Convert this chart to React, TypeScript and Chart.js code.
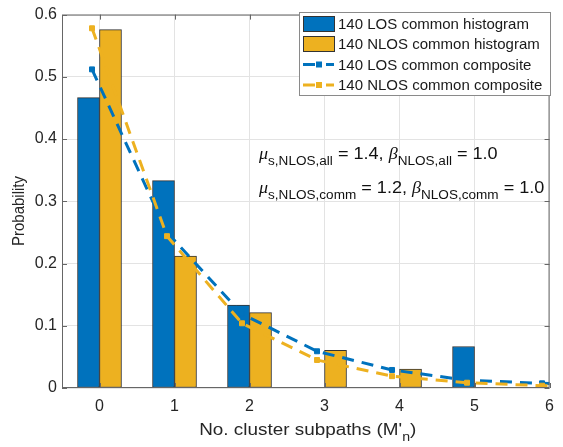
import React, { useEffect, useRef } from 'react';
import { Chart, registerables } from 'chart.js';

Chart.register(...registerables);

// ---------- data ----------
const binCenters = [0, 1, 2, 3, 4, 5];
const losHistogram = [0.4667, 0.3333, 0.1333, 0, 0, 0.0667];
const nlosHistogram = [0.5758, 0.2121, 0.1212, 0.0606, 0.0303, 0];

const compositeX = [-0.1, 0.9, 1.9, 2.9, 3.9, 4.9, 5.9, 6.9];
const losComposite = [0.512, 0.25, 0.119, 0.059, 0.029, 0.0125, 0.0075, 0.004];
const nlosComposite = [0.578, 0.244, 0.104, 0.045, 0.019, 0.0085, 0.0037, 0.0016];

const xTicks = [0, 1, 2, 3, 4, 5, 6];
const yTicks = [0, 0.1, 0.2, 0.3, 0.4, 0.5, 0.6];

const legendLabels = [
  '140 LOS common histogram',
  '140 NLOS common histogram',
  '140 LOS common composite',
  '140 NLOS common composite',
];

const BLUE = '#0072BD';
const YELLOW = '#EDB120';
const TEXT = '#262626';
const SANS = '"Liberation Sans", Arial, Helvetica, sans-serif';
const SERIF = '"Liberation Serif", "DejaVu Serif", serif';

type Part = { t: string; font: string; dy?: number };

function drawRich(ctx: CanvasRenderingContext2D, parts: Part[], x: number, y: number, sx: number) {
  ctx.save();
  ctx.translate(x, y);
  ctx.scale(sx, 1);
  let cx = 0;
  for (const p of parts) {
    ctx.font = p.font;
    ctx.fillText(p.t, cx, p.dy || 0);
    cx += ctx.measureText(p.t).width;
  }
  ctx.restore();
}

function richWidth(ctx: CanvasRenderingContext2D, parts: Part[], sx: number) {
  let w = 0;
  for (const p of parts) {
    ctx.font = p.font;
    w += ctx.measureText(p.t).width;
  }
  return w * sx;
}

const decorPlugin = {
  id: 'decor',
  afterDraw(chart: any) {
    const ctx: CanvasRenderingContext2D = chart.ctx;
    const { left, right, top, bottom } = chart.chartArea;
    const xs = chart.scales.x;
    const ys = chart.scales.y;
    ctx.save();

    // frame
    ctx.strokeStyle = '#666666';
    ctx.lineWidth = 1;
    ctx.strokeRect(left + 0.5, top + 0.5, right - left - 1, bottom - top - 1);

    // inner ticks
    ctx.beginPath();
    for (const v of xTicks) {
      const px = Math.round(xs.getPixelForValue(v)) + 0.5;
      ctx.moveTo(px, bottom);
      ctx.lineTo(px, bottom - 5);
      ctx.moveTo(px, top);
      ctx.lineTo(px, top + 5);
    }
    for (const v of yTicks) {
      const py = Math.round(ys.getPixelForValue(v)) + 0.5;
      ctx.moveTo(left, py);
      ctx.lineTo(left + 5, py);
      ctx.moveTo(right, py);
      ctx.lineTo(right - 5, py);
    }
    ctx.stroke();

    // legend
    const lx = 299.5, ly = 12.5, lw = 251, lh = 83;
    ctx.fillStyle = '#ffffff';
    ctx.fillRect(lx, ly, lw, lh);
    ctx.strokeStyle = '#8a8a8a';
    ctx.lineWidth = 1;
    ctx.strokeRect(lx, ly, lw, lh);
    const rowsY = [24, 44, 64.5, 85];
    const colors = [BLUE, YELLOW, BLUE, YELLOW];
    ctx.textBaseline = 'middle';
    ctx.textAlign = 'left';
    for (let i = 0; i < 4; i++) {
      const y = rowsY[i];
      if (i < 2) {
        ctx.fillStyle = colors[i];
        ctx.fillRect(303, y - 7.5, 31, 15);
        ctx.strokeStyle = '#333333';
        ctx.strokeRect(303.5, y - 7.5, 31, 15);
      } else {
        ctx.strokeStyle = colors[i];
        ctx.lineWidth = 3;
        ctx.beginPath();
        ctx.moveTo(303, y);
        ctx.lineTo(315, y);
        ctx.moveTo(326, y);
        ctx.lineTo(334, y);
        ctx.stroke();
        ctx.fillStyle = colors[i];
        ctx.fillRect(316, y - 3, 6, 6);
        ctx.lineWidth = 1;
      }
      ctx.fillStyle = '#1a1a1a';
      ctx.font = `15px ${SANS}`;
      ctx.fillText(legendLabels[i], 338, y + 1);
    }

    // annotation
    ctx.textBaseline = 'alphabetic';
    ctx.fillStyle = '#111111';
    const M = `16px ${SANS}`;
    const S = `12px ${SANS}`;
    const G = `italic 16px ${SERIF}`;
    const line1: Part[] = [
      { t: 'μ', font: G },
      { t: 's,NLOS,all', font: S, dy: 6 },
      { t: ' = 1.4, ', font: M },
      { t: 'β', font: G },
      { t: 'NLOS,all', font: S, dy: 6 },
      { t: ' = 1.0', font: M },
    ];
    const line2: Part[] = [
      { t: 'μ', font: G },
      { t: 's,NLOS,comm', font: S, dy: 6 },
      { t: ' = 1.2, ', font: M },
      { t: 'β', font: G },
      { t: 'NLOS,comm', font: S, dy: 6 },
      { t: ' = 1.0', font: M },
    ];
    drawRich(ctx, line1, 259, 159, 1.13);
    drawRich(ctx, line2, 259, 193, 1.13);

    // x title
    ctx.fillStyle = TEXT;
    const xt: Part[] = [
      { t: "No. cluster subpaths (M'", font: `16px ${SANS}` },
      { t: 'n', font: `12px ${SANS}`, dy: 6 },
      { t: ')', font: `16px ${SANS}` },
    ];
    const sxT = 1.18;
    const w = richWidth(ctx, xt, sxT);
    drawRich(ctx, xt, (left + right) / 2 - w / 2 + 2, 435, sxT);

    // y title
    ctx.save();
    ctx.translate(24, 211);
    ctx.rotate(-Math.PI / 2);
    ctx.scale(1, 1.15);
    ctx.font = `15px ${SANS}`;
    ctx.textAlign = 'center';
    ctx.textBaseline = 'alphabetic';
    ctx.fillText('Probability', 0, 0);
    ctx.restore();

    ctx.restore();
  },
};

export default function App() {
  const ref = useRef<HTMLCanvasElement | null>(null);

  useEffect(() => {
    document.body.style.margin = '0';
    const canvas = ref.current;
    if (!canvas) return;

    const chart = new Chart(canvas, {
      type: 'bar',
      data: {
        datasets: [
          {
            type: 'line',
            label: legendLabels[3],
            data: compositeX.map((x, i) => ({ x, y: nlosComposite[i] })),
            borderColor: YELLOW,
            backgroundColor: YELLOW,
            borderWidth: 3,
            borderDash: [12, 8],
            pointStyle: 'rect',
            pointRadius: 3.5,
            pointBorderWidth: 1,
            pointBackgroundColor: YELLOW,
            pointBorderColor: YELLOW,
            tension: 0,
            fill: false,
            order: 0,
          } as any,
          {
            type: 'line',
            label: legendLabels[2],
            data: compositeX.map((x, i) => ({ x, y: losComposite[i] })),
            borderColor: BLUE,
            backgroundColor: BLUE,
            borderWidth: 3,
            borderDash: [12, 8],
            pointStyle: 'rect',
            pointRadius: 3.5,
            pointBorderWidth: 1,
            pointBackgroundColor: BLUE,
            pointBorderColor: BLUE,
            tension: 0,
            fill: false,
            order: 1,
          } as any,
          {
            type: 'bar',
            label: legendLabels[0],
            data: binCenters.map((x, i) => ({ x, y: losHistogram[i] })),
            backgroundColor: BLUE,
            borderColor: '#333333',
            borderWidth: 1,
            borderSkipped: false,
            barThickness: 22,
            order: 2,
          } as any,
          {
            type: 'bar',
            label: legendLabels[1],
            data: binCenters.map((x, i) => ({ x, y: nlosHistogram[i] })),
            backgroundColor: YELLOW,
            borderColor: '#333333',
            borderWidth: 1,
            borderSkipped: false,
            barThickness: 22,
            order: 2,
          } as any,
        ],
      },
      options: {
        responsive: false,
        animation: false,
        layout: { padding: { top: 4, right: 6, left: 0, bottom: 0 } },
        plugins: {
          legend: { display: false },
          tooltip: { enabled: false },
          title: { display: false },
        },
        scales: {
          x: {
            type: 'linear',
            min: -0.5,
            max: 6,
            offset: false,
            afterBuildTicks: (s: any) => {
              s.ticks = xTicks.map((v) => ({ value: v }));
            },
            afterFit: (s: any) => {
              s.height = 59;
            },
            grid: { color: '#e3e3e3', drawTicks: false, offset: false },
            border: { display: false },
            ticks: {
              padding: 9,
              color: TEXT,
              font: { family: SANS, size: 16 },
              callback: (v: any) => String(v),
            },
          },
          y: {
            type: 'linear',
            min: 0,
            max: 0.6,
            afterBuildTicks: (s: any) => {
              s.ticks = yTicks.map((v) => ({ value: v }));
            },
            afterFit: (s: any) => {
              s.width = 62;
            },
            grid: { color: '#e3e3e3', drawTicks: false },
            border: { display: false },
            ticks: {
              padding: 5,
              color: TEXT,
              font: { family: SANS, size: 16 },
              callback: (v: any) => (v === 0 ? '0' : Number(v).toFixed(1)),
            },
          },
        },
      } as any,
      plugins: [decorPlugin],
    });

    return () => chart.destroy();
  }, []);

  return (
    <div style={{ width: 563, height: 447 }}>
      <canvas ref={ref} width={563} height={447} style={{ display: 'block' }} />
    </div>
  );
}
